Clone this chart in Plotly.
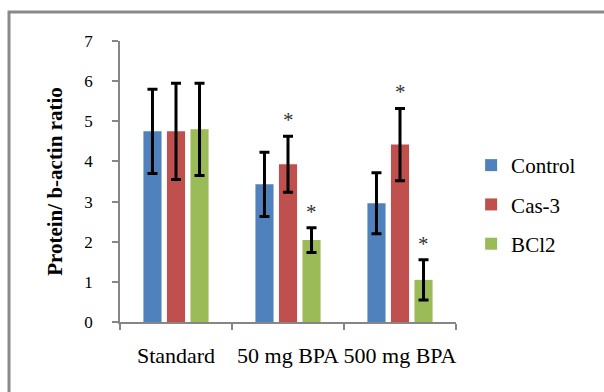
import plotly.graph_objects as go

categories = ["Standard", "50 mg BPA", "500 mg BPA"]
series_names = ["Control", "Cas-3", "BCl2"]
control_vals = [4.75, 3.43, 2.96]
control_err = [1.05, 0.80, 0.76]
cas3_vals = [4.75, 3.93, 4.42]
cas3_err = [1.20, 0.70, 0.90]
bcl2_vals = [4.80, 2.04, 1.05]
bcl2_err = [1.15, 0.31, 0.50]
control_sig = [False, False, False]
cas3_sig = [False, True, True]
bcl2_sig = [False, True, True]
y_ticks = [0, 1, 2, 3, 4, 5, 6, 7]

colors = ["#4F81BD", "#C0504D", "#9BBB59"]
vals = [control_vals, cas3_vals, bcl2_vals]
errs = [control_err, cas3_err, bcl2_err]
sigs = [control_sig, cas3_sig, bcl2_sig]

FONT = "Liberation Serif"

fig = go.Figure()
for i, name in enumerate(series_names):
    fig.add_trace(go.Bar(
        x=categories, y=vals[i], name=name, legendgroup=name,
        marker=dict(color=colors[i], line=dict(width=0)),
        error_y=dict(type="data", array=errs[i], visible=True,
                     color="black", thickness=3, width=5),
    ))

annotations = []
for i in range(3):
    for j, c in enumerate(categories):
        if sigs[i][j]:
            annotations.append(dict(
                x=c, y=vals[i][j] + errs[i][j], xref="x", yref="y",
                text="*", showarrow=False, xshift=(i - 1) * 23.5, yshift=16,
                font=dict(family=FONT, size=21, color="#333333"),
            ))

fig.update_layout(
    width=604, height=392,
    margin=dict(l=120, r=148, t=41, b=70, autoexpand=False),
    paper_bgcolor="white", plot_bgcolor="white",
    barmode="group", bargap=0.37, bargroupgap=0.23,
    font=dict(family=FONT, size=17, color="black"),
    showlegend=True,
    legend=dict(x=1.045, xanchor="left", y=0.63, yanchor="top",
                font=dict(family=FONT, size=21, color="black"),
                traceorder="grouped", tracegroupgap=9,
                bgcolor="rgba(0,0,0,0)"),
    annotations=annotations,
    shapes=[dict(type="rect", xref="paper", yref="paper",
                 x0=(9 - 120) / 336, x1=(620 - 120) / 336,
                 y0=(322 - 420) / 281, y1=(322 - 12) / 281,
                 line=dict(color="#8A8A8A", width=3), layer="below")],
)
fig.update_xaxes(
    showline=True, linecolor="#868686", linewidth=1.5,
    ticks="outside", tickson="boundaries", ticklen=6, tickcolor="#868686",
    tickwidth=1.5, showgrid=False, automargin=False, tickangle=0,
    tickfont=dict(family=FONT, size=22, color="black"),
    ticklabelstandoff=13,
)
fig.update_yaxes(
    range=[0, 7], tickvals=y_ticks, showline=True, linecolor="#868686",
    linewidth=1.5, ticks="outside", ticklen=6, tickcolor="#868686",
    tickwidth=1.5, showgrid=False, zeroline=False, automargin=False,
    tickfont=dict(family=FONT, size=17, color="black"),
    ticklabelstandoff=16,
    title=dict(text="<b>Protein/ b-actin ratio</b>", standoff=16,
               font=dict(family=FONT, size=21, color="black")),
)

fig.write_html("out.html", config={"displayModeBar": False},
               post_script="document.body.style.margin='0';")
